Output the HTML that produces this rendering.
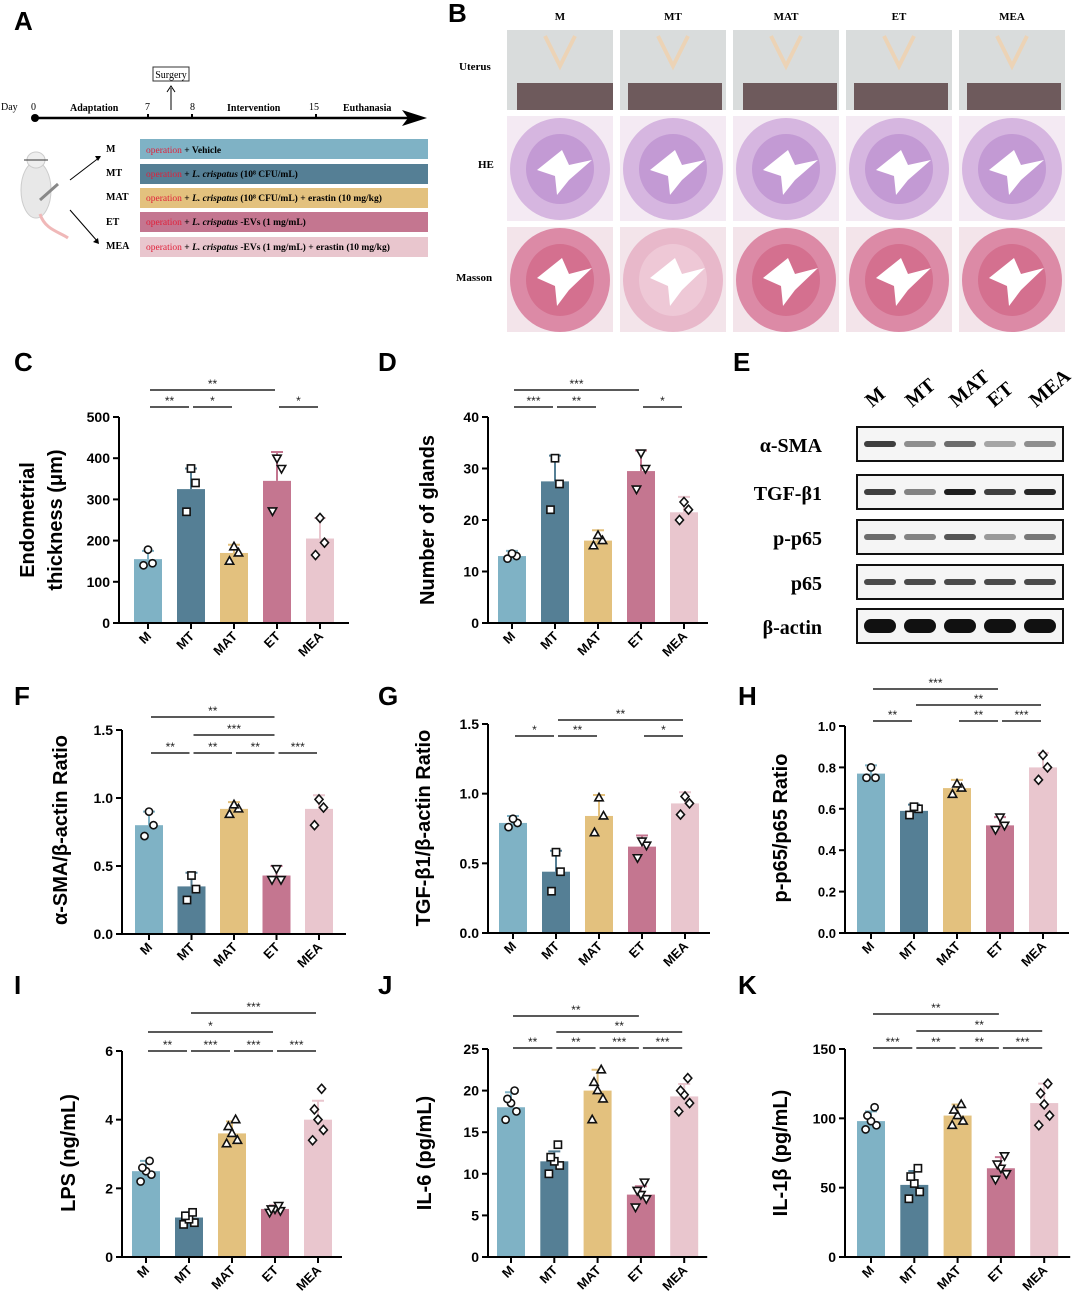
<!DOCTYPE html>
<html><head><meta charset="utf-8"><style>
html,body{margin:0;padding:0;background:#fff;}
svg{display:block;font-family:"Liberation Sans",Arial,sans-serif;}
.ser{font-family:"Liberation Serif","Times New Roman",serif;font-weight:bold;}
</style></head><body>
<svg id="fig" width="1080" height="1302" viewBox="0 0 1080 1302" xmlns="http://www.w3.org/2000/svg">
<rect width="1080" height="1302" fill="#fff"/>
<g>
<text x="14" y="30" font-size="26" font-weight="bold">A</text>
<rect x="153" y="67" width="36" height="14" fill="#fff" stroke="#333" stroke-width="1"/>
<text x="171" y="78" font-size="10" class="ser" style="font-weight:normal" text-anchor="middle">Surgery</text>
<line x1="171" y1="110" x2="171" y2="88" stroke="#000" stroke-width="1"/><path d="M167,92 L171,86 L175,92" fill="none" stroke="#000"/>
<line x1="35" y1="118" x2="410" y2="118" stroke="#000" stroke-width="2.5"/>
<path d="M402,110 L427,118 L402,126 L408,118Z" fill="#000"/>
<circle cx="35" cy="118" r="4" fill="#000"/>
<g class="ser" font-size="10">
<text x="1" y="110" style="font-weight:normal">Day</text><text x="31" y="110" style="font-weight:normal">0</text>
<text x="70" y="111">Adaptation</text><text x="145" y="110" style="font-weight:normal">7</text><text x="190" y="110" style="font-weight:normal">8</text>
<text x="227" y="111">Intervention</text><text x="309" y="110" style="font-weight:normal">15</text><text x="343" y="111">Euthanasia</text>
</g>
<line x1="148" y1="114" x2="148" y2="118" stroke="#000" stroke-width="2"/><line x1="192" y1="114" x2="192" y2="118" stroke="#000" stroke-width="2"/><line x1="316" y1="114" x2="316" y2="118" stroke="#000" stroke-width="2"/>
<g>
<ellipse cx="36" cy="190" rx="15" ry="28" fill="#e8e8e8" stroke="#ccc"/>
<ellipse cx="36" cy="160" rx="9" ry="8" fill="#eee" stroke="#ccc"/>
<path d="M40,214 C45,230 60,232 68,238" stroke="#f0b8b8" stroke-width="3" fill="none"/>
<line x1="24" y1="160" x2="48" y2="160" stroke="#333" stroke-width="1"/>
<line x1="40" y1="200" x2="58" y2="184" stroke="#888" stroke-width="3"/>
</g>
<line x1="70" y1="180" x2="100" y2="157" stroke="#000" stroke-width="1"/><path d="M95,156 L101,156 L98,161Z" fill="#000"/>
<line x1="70" y1="210" x2="98" y2="242" stroke="#000" stroke-width="1"/><path d="M93,242 L99,244 L98,238Z" fill="#000"/>
<g class="ser" font-size="10">
<text x="106" y="152">M</text><text x="106" y="176">MT</text><text x="106" y="200">MAT</text><text x="106" y="225">ET</text><text x="106" y="249">MEA</text>
</g>
<g class="ser" font-size="9.5">
<rect x="140" y="139" width="288" height="20" fill="#7fb2c5"/>
<text x="146" y="153"><tspan fill="#e0203a" style="font-weight:normal">operation</tspan>  + Vehicle</text>
<rect x="140" y="164" width="288" height="20" fill="#557f95"/>
<text x="146" y="177"><tspan fill="#e0203a" style="font-weight:normal">operation</tspan> + <tspan font-style="italic">L. crispatus</tspan> (10⁸ CFU/mL)</text>
<rect x="140" y="188" width="288" height="20" fill="#e3c17e"/>
<text x="146" y="201"><tspan fill="#e0203a" style="font-weight:normal">operation</tspan> + <tspan font-style="italic">L. crispatus</tspan> (10⁸ CFU/mL) + erastin (10 mg/kg)</text>
<rect x="140" y="212" width="288" height="20" fill="#c47690"/>
<text x="146" y="225"><tspan fill="#e0203a" style="font-weight:normal">operation</tspan> + <tspan font-style="italic">L. crispatus</tspan> -EVs (1 mg/mL)</text>
<rect x="140" y="237" width="288" height="20" fill="#e9c6ce"/>
<text x="146" y="250"><tspan fill="#e0203a" style="font-weight:normal">operation</tspan> + <tspan font-style="italic">L. crispatus</tspan> -EVs (1 mg/mL) + erastin (10 mg/kg)</text>
</g>
</g>
<g id="panelB">
<text x="448" y="22" font-size="26" font-weight="bold">B</text>
<g class="ser" font-size="11">
<text x="459" y="70">Uterus</text><text x="478" y="168">HE</text><text x="456" y="281">Masson</text>
</g>
</g>
<g id="panelE">
<text x="733" y="371" font-size="26" font-weight="bold">E</text>
</g>
<g id="charts"></g>
</svg>
<script>
var NS="http://www.w3.org/2000/svg";
var groups=["M","MT","MAT","ET","MEA"];
var colors=["#7fb2c5","#557f95","#e3c17e","#c47690","#e9c6ce"];
// Chart C
var cMeans=[155,325,170,345,205];
var cErr=[20,50,20,70,50];
var cPts=[[140,145,178],[270,340,375],[150,170,185],[272,375,400],[165,195,255]];
var cTicks=[0,100,200,300,400,500];
var cSig=[[0,1,0,"**"],[1,2,0,"*"],[3,4,0,"*"],[0,3,1,"**"]];
// Chart D
var dMeans=[13,27.5,16,29.5,21.5];
var dErr=[1,5,2,4,3];
var dPts=[[12.5,13,13.5],[22,27,32],[15,16,17],[26,30,33],[20,22,23.5]];
var dTicks=[0,10,20,30,40];
var dSig=[[0,1,0,"***"],[1,2,0,"**"],[3,4,0,"*"],[0,3,1,"***"]];
// Chart F
var fMeans=[0.8,0.35,0.92,0.43,0.92];
var fErr=[0.1,0.1,0.05,0.07,0.1];
var fPts=[[0.72,0.8,0.9],[0.25,0.33,0.43],[0.88,0.92,0.95],[0.4,0.4,0.48],[0.8,0.93,0.99]];
var fTicks=[0,0.5,1.0,1.5];
var fSig=[[0,1,0,"**"],[1,2,0,"**"],[2,3,0,"**"],[3,4,0,"***"],[1,3,1,"***"],[0,3,2,"**"]];
// Chart G
var gMeans=[0.79,0.44,0.84,0.62,0.93];
var gErr=[0.05,0.15,0.15,0.08,0.08];
var gPts=[[0.76,0.79,0.82],[0.3,0.44,0.58],[0.72,0.84,0.97],[0.54,0.63,0.66],[0.85,0.93,0.98]];
var gTicks=[0,0.5,1.0,1.5];
var gSig=[[0,1,0,"*"],[1,2,0,"**"],[3,4,0,"*"],[1,4,1,"**"]];
// Chart H
var hMeans=[0.77,0.59,0.7,0.52,0.8];
var hErr=[0.04,0.03,0.04,0.04,0.07];
var hPts=[[0.75,0.75,0.8],[0.57,0.6,0.61],[0.67,0.7,0.72],[0.5,0.52,0.56],[0.74,0.8,0.86]];
var hTicks=[0,0.2,0.4,0.6,0.8,1.0];
var hSig=[[0,1,0,"**"],[2,3,0,"**"],[3,4,0,"***"],[1,4,1,"**"],[0,3,2,"***"]];
// Chart I
var iMeans=[2.5,1.15,3.6,1.4,4.0];
var iErr=[0.3,0.15,0.35,0.1,0.55];
var iPts=[[2.2,2.4,2.5,2.6,2.8],[0.95,1.0,1.1,1.2,1.3],[3.3,3.4,3.6,3.8,4.0],[1.3,1.35,1.4,1.4,1.5],[3.4,3.7,4.0,4.3,4.9]];
var iTicks=[0,2,4,6];
var iSig=[[0,1,0,"**"],[1,2,0,"***"],[2,3,0,"***"],[3,4,0,"***"],[0,3,1,"*"],[1,4,2,"***"]];
// Chart J
var jMeans=[18,11.5,20,7.5,19.3];
var jErr=[1.8,1.2,2.5,1,1.5];
var jPts=[[16.5,17.5,18.5,19,20],[10,11,11.5,12,13.5],[16.5,19,20,21,22.5],[6,7,7.5,8,9],[17.5,18.5,19.5,20,21.5]];
var jTicks=[0,5,10,15,20,25];
var jSig=[[0,1,0,"**"],[1,2,0,"**"],[2,3,0,"***"],[3,4,0,"***"],[1,4,1,"**"],[0,3,2,"**"]];
// Chart K
var kMeans=[98,52,102,64,111];
var kErr=[7,10,8,8,14];
var kPts=[[92,95,98,102,108],[42,47,53,58,64],[95,98,102,106,110],[56,60,64,67,73],[95,102,110,118,125]];
var kTicks=[0,50,100,150];
var kSig=[[0,1,0,"***"],[1,2,0,"**"],[2,3,0,"**"],[3,4,0,"***"],[1,4,1,"**"],[0,3,2,"**"]];

function mk(tag,attrs,parent){var e=document.createElementNS(NS,tag);for(var k in attrs)e.setAttribute(k,attrs[k]);parent.appendChild(e);return e;}
function marker(g,shape,x,y){
  var s=3.6,a={fill:"#fff",stroke:"#111","stroke-width":1.6};
  var e;
  if(shape==0){a.cx=x;a.cy=y;a.r=3.6;e=mk("circle",a,g);}
  else if(shape==1){a.x=x-s;a.y=y-s;a.width=2*s;a.height=2*s;e=mk("rect",a,g);}
  else if(shape==2){a.points=(x)+","+(y-4.5)+" "+(x+4.2)+","+(y+3)+" "+(x-4.2)+","+(y+3);e=mk("polygon",a,g);}
  else if(shape==3){a.points=(x)+","+(y+4.5)+" "+(x+4.2)+","+(y-3)+" "+(x-4.2)+","+(y-3);e=mk("polygon",a,g);}
  else {a.points=x+","+(y-4.5)+" "+(x+4)+","+y+" "+x+","+(y+4.5)+" "+(x-4)+","+y;e=mk("polygon",a,g);}
  
  
}
function chart(id,L,means,err,pts,ticks,sig){
  var root=document.getElementById("charts");
  var g=mk("g",{},root);
  
  
  var ymax=ticks[ticks.length-1];
  function y(v){return L.y0-(v/ymax)*(L.y0-L.yTop);}
  function x(i){return L.x0+L.first+i*L.step;}
  var pl=mk("text",{x:L.px,y:L.py,"font-size":26,"font-weight":"bold"},g);pl.textContent=id.toUpperCase();
  
  
  for(var i=0;i<means.length;i++){
    var bw=28;
    var b=mk("rect",{x:x(i)-bw/2,y:y(means[i]),width:bw,height:L.y0-y(means[i]),fill:colors[i]},g);
    
    
    var eb=mk("path",{d:"M"+x(i)+","+y(means[i])+"V"+y(means[i]+err[i])+"M"+(x(i)-6)+","+y(means[i]+err[i])+"H"+(x(i)+6),stroke:colors[i],"stroke-width":2,fill:"none"},g);
    
    
  }
  for(var i=0;i<pts.length;i++){
    var n=pts[i].length;
    for(var j=0;j<n;j++){
      var off=(n==3)?[-5,5,0][j]:[-6,6,0,-4,4][j];
      marker(g,i,x(i)+off*0.9,y(pts[i][j]));
    }
  }
  var ax=mk("path",{d:"M"+L.x0+","+y(ymax)+"V"+L.y0+"H"+(L.x0+L.first*2+4*L.step),stroke:"#000","stroke-width":2,fill:"none"},g);
  
  
  for(var t=0;t<ticks.length;t++){
    mk("line",{x1:L.x0-6,x2:L.x0,y1:y(ticks[t]),y2:y(ticks[t]),stroke:"#000","stroke-width":2},g);
    var tl=mk("text",{x:L.x0-9,y:y(ticks[t])+5,"font-size":L.tfs||14,"font-weight":"bold","text-anchor":"end"},g);
    tl.textContent=(ymax<=1.5&&ymax>0)?ticks[t].toFixed(1):ticks[t];
    
    
  }
  for(var i=0;i<groups.length;i++){
    mk("line",{x1:x(i),x2:x(i),y1:L.y0,y2:L.y0+6,stroke:"#000","stroke-width":2},g);
    var xl=mk("text",{x:x(i)+4,y:L.y0+14,"font-size":13,"font-weight":"bold","text-anchor":"end",transform:"rotate(-45 "+(x(i)+4)+" "+(L.y0+14)+")"},g);
    xl.textContent=groups[i];
    
    
  }
  for(var k=0;k<L.title.length;k++){
    var tx=L.tx+k*28;
    var tt=mk("text",{x:tx,y:L.ty,"font-size":20,"font-weight":"bold","text-anchor":"middle",transform:"rotate(-90 "+tx+" "+L.ty+")"},g);
    tt.textContent=L.title[k];
    
    
  }
  for(var s=0;s<sig.length;s++){
    var sy=L.sb+sig[s][2]*L.ss;
    var sl=mk("line",{x1:x(sig[s][0])+2,x2:x(sig[s][1])-2,y1:sy,y2:sy,stroke:"#222","stroke-width":1.5},g);
    
    
    var st=mk("text",{x:(x(sig[s][0])+x(sig[s][1]))/2,y:sy-2,"font-size":12,"text-anchor":"middle",fill:"#222"},g);
    st.textContent=sig[s][3];
    
    
  }
}
chart("c",{x0:119,y0:623,yTop:417,first:29,step:43,px:14,py:371,title:["Endometrial","thickness (μm)"],tx:34,ty:520,sb:407,ss:-17},cMeans,cErr,cPts,cTicks,cSig);
chart("d",{x0:488,y0:623,yTop:417,first:24,step:43,px:378,py:371,title:["Number of glands"],tx:434,ty:520,sb:407,ss:-17},dMeans,dErr,dPts,dTicks,dSig);
chart("f",{x0:122,y0:934,yTop:730,first:27,step:42.5,px:14,py:705,title:["α-SMA/β-actin Ratio"],tx:67,ty:830,sb:753,ss:-18},fMeans,fErr,fPts,fTicks,fSig);
chart("g",{x0:488,y0:933,yTop:724,first:25,step:43,px:378,py:705,title:["TGF-β1/β-actin Ratio"],tx:430,ty:828,sb:736,ss:-16},gMeans,gErr,gPts,gTicks,gSig);
chart("h",{x0:845,y0:933,yTop:726,first:26,step:43,px:738,py:705,title:["p-p65/p65 Ratio"],tx:787,ty:828,sb:721,ss:-16,tfs:13},hMeans,hErr,hPts,hTicks,hSig);
chart("i",{x0:122,y0:1257,yTop:1051,first:24,step:43,px:14,py:994,title:["LPS (ng/mL)"],tx:75,ty:1153,sb:1051,ss:-19},iMeans,iErr,iPts,iTicks,iSig);
chart("j",{x0:488,y0:1257,yTop:1049,first:23,step:43.3,px:378,py:994,title:["IL-6 (pg/mL)"],tx:431,ty:1153,sb:1048,ss:-16},jMeans,jErr,jPts,jTicks,jSig);
chart("k",{x0:845,y0:1257,yTop:1049,first:26,step:43.3,px:738,py:994,title:["IL-1β (pg/mL)"],tx:787,ty:1153,sb:1048,ss:-17},kMeans,kErr,kPts,kTicks,kSig);

(function(){
  var pb=document.getElementById("panelB");
  var cols=[507,620,733,846,959];
  for(var c=0;c<5;c++){
    var x=cols[c];
    var h=mk("text",{x:x+53,y:20,"font-size":11,"text-anchor":"middle",class:"ser"},pb);h.textContent=groups[c];
    
    
    var ug=mk("g",{},pb);
    
    
    mk("rect",{x:x,y:30,width:106,height:80,fill:"#d9dcdc"},ug);
    mk("rect",{x:x+(c==0||c==2?10:8),y:83,width:(c==0?96:94),height:27,fill:"#6e5a5c"},ug);
    mk("path",{d:"M"+(x+38)+",36 L"+(x+53)+",66 L"+(x+68)+",36",stroke:"#ecd3b6","stroke-width":4,fill:"none"},ug);
    var hg=mk("g",{},pb);
    
    
    mk("rect",{x:x,y:116,width:106,height:105,fill:"#f4eaf3"},hg);
    mk("ellipse",{cx:x+53,cy:169,rx:50,ry:51,fill:"#d6b6e0"},hg);
    mk("ellipse",{cx:x+53,cy:169,rx:34,ry:35,fill:"#c39ad4"},hg);
    mk("path",{d:"M"+(x+30)+","+170+" L"+(x+55)+",150 L"+(x+62)+",165 L"+(x+85)+",160 L"+(x+62)+",180 L"+(x+50)+",195 L"+(x+48)+",176Z",fill:"#fff"},hg);
    var mg=mk("g",{},pb);
    
    
    mk("rect",{x:x,y:227,width:106,height:105,fill:"#f3e4ea"},mg);
    mk("ellipse",{cx:x+53,cy:280,rx:50,ry:52,fill:c==1?"#e8b8ca":"#dc8aa6"},mg);
    mk("ellipse",{cx:x+53,cy:280,rx:34,ry:36,fill:c==1?"#eec8d6":"#d4708f"},mg);
    mk("path",{d:"M"+(x+30)+",278 L"+(x+55)+",258 L"+(x+62)+",274 L"+(x+85)+",268 L"+(x+62)+",290 L"+(x+50)+",306 L"+(x+48)+",286Z",fill:"#fff"},mg);
  }
})();
var blotNames=["α-SMA","TGF-β1","p-p65","p65","β-actin"];
var blotIntensity=[[0.8,0.45,0.6,0.35,0.45],[0.8,0.5,0.95,0.8,0.9],[0.6,0.5,0.7,0.4,0.55],[0.75,0.75,0.75,0.75,0.75],[1,1,1,1,1]];
(function(){
  var pe=document.getElementById("panelE");
  var hx=[884,924,968,1006,1048];
  for(var i=0;i<5;i++){
    var t=mk("text",{x:hx[i]-12,y:408,"font-size":20,class:"ser",transform:"rotate(-40 "+(hx[i]-12)+" 408)"},pe);
    t.textContent=groups[i];
    
    
  }
  var rows=[427,475,520,565,609];
  for(var r=0;r<5;r++){
    var l=mk("text",{x:822,y:rows[r]+25,"font-size":20,class:"ser","text-anchor":"end"},pe);
    l.textContent=blotNames[r];
    
    
    var bg=mk("g",{},pe);
    
    
    mk("rect",{x:857,y:rows[r],width:206,height:34,fill:"#f5f5f5",stroke:"#111","stroke-width":2},bg);
    for(var i=0;i<5;i++){
      var v=blotIntensity[r][i];
      var bh=r==4?14:6;
      mk("rect",{x:864+i*40,y:rows[r]+17-bh/2,width:32,height:bh,rx:bh/2,fill:"#111","fill-opacity":v},bg);
    }
  }
})();
</script>
</body></html>
